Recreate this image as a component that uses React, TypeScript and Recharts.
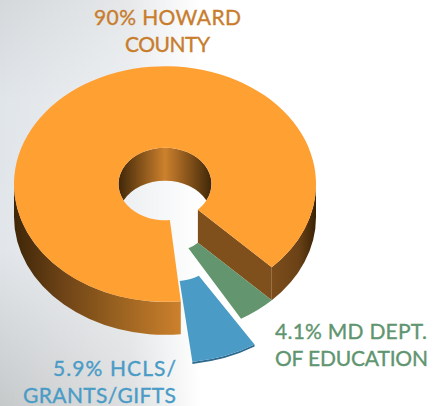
import React from "react";
import { PieChart, Pie } from "recharts";

const categories = ["Howard County", "MD Dept. of Education", "HCLS/Grants/Gifts"];
const shares = [90, 4.1, 5.9];
const labelLines = [
  ["90% HOWARD", "COUNTY"],
  ["4.1% MD DEPT.", "OF EDUCATION"],
  ["5.9% HCLS/", "GRANTS/GIFTS"],
];
const labelWidths = [
  [147, 85],
  [152, 153],
  [123, 153],
];
const faceColors = ["#ffa033", "#63966f", "#4a9bc6"];
const labelColors = ["#c87d2d", "#5f9570", "#4a9bc6"];

const data = categories.map((name, i) => ({ name, value: shares[i], index: i }));

const W = 445;
const H = 406;
const CX = 165;
const CY = 184;
const K = 0.78;
const DEPTH = 33;
const START = -81;

// per-slice styling: [dx, dy, start-edge trim, end-edge trim] (degrees)
const sliceOffset = [
  [0, 0, 3, 0],
  [0, DEPTH, 0, 0],
  [9, DEPTH + 28, -2, 2],
];
const labelPos = [
  { x: 167.5, y: 25, anchor: "middle" },
  { x: 275, y: 339, anchor: "start" },
  { x: 176, y: 376, anchor: "end" },
];

const rad = (d: number) => (d * Math.PI) / 180;
const pt = (cx: number, cy: number, r: number, s: number) => [
  cx + r * Math.cos(rad(s)),
  cy + r * K * Math.sin(rad(s)),
];

function arc(cx: number, cy: number, r: number, s0: number, s1: number, move: boolean) {
  const [x0, y0] = pt(cx, cy, r, s0);
  const [x1, y1] = pt(cx, cy, r, s1);
  const large = Math.abs(s1 - s0) > 180 ? 1 : 0;
  const sweep = s1 > s0 ? 1 : 0;
  return `${move ? "M" : "L"}${x0} ${y0} A${r} ${r * K} 0 ${large} ${sweep} ${x1} ${y1}`;
}

function wallPath(cx: number, cy: number, r: number, s0: number, s1: number, d: number) {
  return `${arc(cx, cy, r, s0, s1, true)} ${arc(cx, cy + d, r, s1, s0, false)} Z`;
}

function Slice(props: any) {
  const { cx, cy, innerRadius: ri, outerRadius: ro, startAngle, endAngle, fill, index } = props;
  const [dx, dy, trim0, trim1] = sliceOffset[index];
  const s0 = -startAngle + trim0;
  const s1 = -endAngle + trim1;
  const ox = cx + dx;
  const oy = cy + dy;
  const face = `${arc(ox, oy, ro, s0, s1, true)} ${arc(ox, oy, ri, s1, s0, false)} Z`;

  if (index === 0) {
    const half = Math.asin(DEPTH / 2 / (ri * K));
    const lensY = cy + DEPTH / 2;
    const lensX = ri * Math.cos(half);
    const ry = ri * K;
    const lens = `M${cx - lensX} ${lensY} A${ri} ${ry} 0 1 1 ${cx + lensX} ${lensY} A${ri} ${ry} 0 0 0 ${cx - lensX} ${lensY} Z`;
    const [ix, iy] = pt(cx, cy, ri, s1);
    const [ex, ey] = pt(cx, cy, ro, s1);
    const cut = `M${ix} ${iy} L${ex} ${ey} L${ex} ${ey + DEPTH} L${ix} ${iy + DEPTH} Z`;
    return (
      <g>
        <defs>
          <linearGradient id="wallLeft" gradientUnits="userSpaceOnUse" x1={14} x2={182} y1={0} y2={0}>
            <stop offset="0" stopColor="#3f2608" />
            <stop offset="0.3" stopColor="#6f4417" />
            <stop offset="0.6" stopColor="#96601f" />
            <stop offset="1" stopColor="#cd812d" />
          </linearGradient>
          <linearGradient id="wallRight" gradientUnits="userSpaceOnUse" x1={272} x2={316} y1={0} y2={0}>
            <stop offset="0" stopColor="#7c4d1b" />
            <stop offset="0.6" stopColor="#6b4216" />
            <stop offset="1" stopColor="#3a2206" />
          </linearGradient>
          <linearGradient id="wallHole" gradientUnits="userSpaceOnUse" x1={118} x2={212} y1={0} y2={0}>
            <stop offset="0" stopColor="#3f2608" />
            <stop offset="0.5" stopColor="#cd812d" />
            <stop offset="1" stopColor="#3f2608" />
          </linearGradient>
        </defs>
        <path d={lens} fill="url(#wallHole)" />
        <path d={wallPath(cx, cy, ro, s0, 180, DEPTH)} fill="url(#wallLeft)" />
        <path d={wallPath(cx, cy, ro, 360, s1, DEPTH)} fill="url(#wallRight)" />
        <path d={cut} fill="#7f501c" />
        <path d={face} fill={fill} fillRule="evenodd" />
      </g>
    );
  }
  return (
    <g>
      {index === 2 && <path d={wallPath(ox, oy, ro, s0, s1, 2)} fill="#2e6a8e" />}
      <path d={face} fill={fill} />
    </g>
  );
}

function SliceLabel(props: any) {
  const i = props.index;
  const pos = labelPos[i];
  return (
    <g>
      {labelLines[i].map((line, j) => (
        <text
          key={line}
          x={pos.x}
          y={pos.y + j * 26.5}
          textAnchor={pos.anchor as any}
          fill={labelColors[i]}
          stroke={labelColors[i]}
          strokeWidth={0.35}
          fontFamily="Lato, sans-serif"
          fontSize={21}
          textLength={labelWidths[i][j]}
          lengthAdjust="spacing"
        >
          {line}
        </text>
      ))}
    </g>
  );
}

export default function App() {
  const cells = data.map((d, i) => ({ ...d, fill: faceColors[i] }));
  return (
    <div
      style={{
        position: "absolute",
        left: 0,
        top: 0,
        width: W,
        height: H,
        overflow: "hidden",
        background:
          "linear-gradient(90deg, rgba(255,255,255,0) 0, rgba(255,255,255,0.2) 60px, rgba(255,255,255,0.42) 130px, #ffffff 200px), linear-gradient(180deg, #d4d8db 0, #e0e5e9 100px, #e2e6ea 250px, #c6c9ca 406px)",
      }}
    >
      <PieChart width={W} height={H} margin={{ top: 0, right: 0, bottom: 0, left: 0 }}>
        <Pie
          data={cells}
          dataKey="value"
          nameKey="name"
          cx={CX}
          cy={CY}
          innerRadius={46.5}
          outerRadius={151}
          startAngle={START}
          endAngle={START - 360}
          stroke="none"
          isAnimationActive={false}
          shape={Slice}
          label={SliceLabel}
          labelLine={false}
          rootTabIndex={-1}
        />
      </PieChart>
    </div>
  );
}
